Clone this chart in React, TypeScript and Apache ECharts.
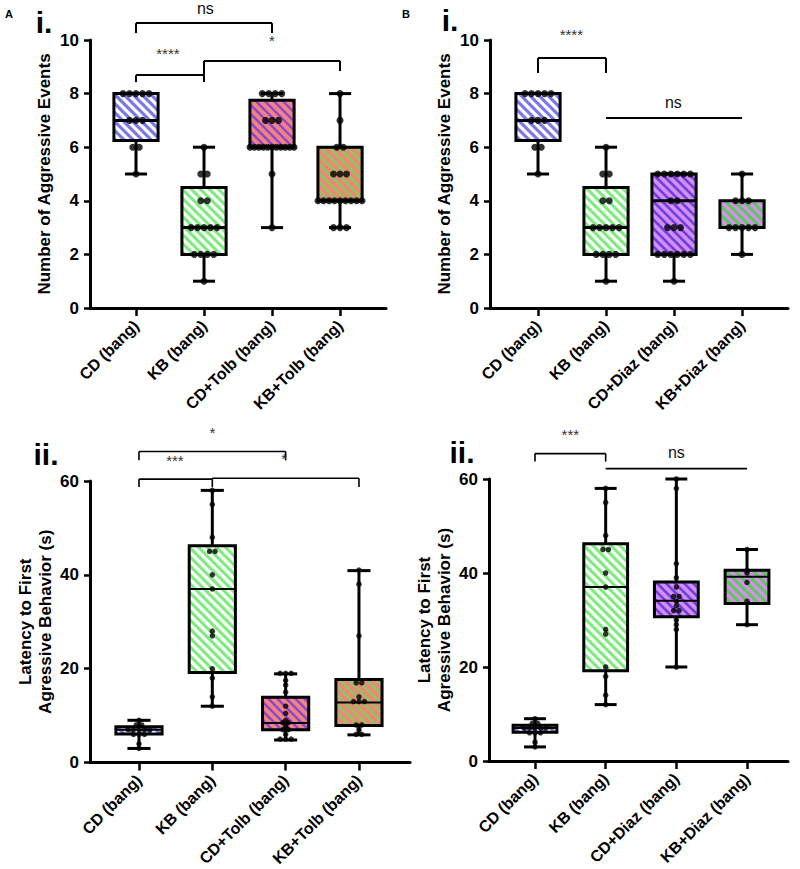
import React, { useEffect, useRef } from 'react';
import * as echarts from 'echarts';

const FONT = "'Liberation Sans', Arial, Helvetica, sans-serif";

// ---------- categories ----------
const catsA = ['CD (bang)', 'KB (bang)', 'CD+Tolb (bang)', 'KB+Tolb (bang)'];
const catsB = ['CD (bang)', 'KB (bang)', 'CD+Diaz (bang)', 'KB+Diaz (bang)'];

// ---------- i. Number of aggressive events: [min, q1, median, q3, max] ----------
const eventsBoxA = [
  [5, 6.25, 7, 8, 8],
  [1, 2, 3, 4.5, 6],
  [3, 6, 6, 7.75, 8],
  [3, 4, 4, 6, 8],
];
const eventsBoxB = [
  [5, 6.25, 7, 8, 8],
  [1, 2, 3, 4.5, 6],
  [1, 2, 4, 5, 5],
  [2, 3, 3, 4, 5],
];
const eventsPtsA = [
  [8, 8, 8, 8, 8, 7, 7, 7, 6, 6, 5],
  [6, 5, 5, 4, 4, 3, 3, 3, 3, 3, 2, 2, 2, 2, 1],
  [8, 8, 8, 8, 7, 7, 7, 6, 6, 6, 6, 6, 6, 6, 6, 6, 6, 6, 5, 3],
  [8, 7, 6, 6, 5, 5, 5, 4, 4, 4, 4, 4, 4, 4, 4, 4, 3, 3, 3],
];
const eventsPtsB = [
  [8, 8, 8, 8, 8, 7, 7, 7, 6, 6, 5],
  [6, 5, 5, 4, 4, 3, 3, 3, 3, 3, 2, 2, 2, 2, 1],
  [5, 5, 5, 5, 5, 5, 4, 4, 3, 3, 3, 2, 2, 2, 2, 2, 2, 1],
  [5, 4, 4, 4, 3, 3, 3, 3, 3, 2],
];

// ---------- ii. Latency (s): [min, q1, median, q3, max] ----------
const latencyBoxA = [
  [3, 6.1, 7, 7.6, 9],
  [12, 19.2, 37, 46.2, 58],
  [4.8, 7, 8.4, 13.9, 18.9],
  [5.9, 7.9, 12.8, 17.7, 40.9],
];
const latencyBoxB = [
  [3, 6.1, 7, 7.6, 9],
  [12, 19.2, 37, 46.2, 58],
  [20, 30.7, 34.1, 38.1, 60],
  [29, 33.5, 39.2, 40.6, 45],
];
const latencyPtsA = [
  [9, 8, 8, 7, 7, 7, 7, 7, 6, 6, 6, 4, 3],
  [58, 55, 48, 45, 45, 40, 37, 28, 27, 20, 18, 14, 12],
  [19, 19, 19, 17.5, 16.5, 15, 12, 10.5, 9, 8.5, 8.5, 8, 7.5, 7, 7, 6, 5, 5, 5],
  [41, 38, 27, 17, 17, 14, 13, 13, 13, 8, 8, 7, 6, 6],
];
const latencyPtsB = [
  [9, 8, 8, 7, 7, 7, 7, 7, 6, 6, 6, 4, 3],
  [58, 55, 48, 45, 45, 40, 37, 28, 27, 20, 18, 14, 12],
  [60, 58, 42, 39, 37, 35, 35, 34, 33, 32, 32, 30, 29, 28, 20],
  [45, 40.5, 40, 38, 34, 29],
];

// ---------- significance annotations ----------
const sigEventsA = [
  { from: 1, to: 3, y: 10.63, legL: 10.26, legR: 10.26, text: 'ns', tx: 2.02, ty: 11.16 },
  { from: 1, to: 2, y: 8.69, legL: 8.43, legR: 8.43, text: '****', tx: 1.47, ty: 9.51 },
  { from: 2, to: 4, y: 9.22, legL: 8.69, legR: 8.84, text: '*', tx: 3.0, ty: 10.0 },
];
const sigEventsB = [
  { from: 1, to: 2, y: 9.33, legL: 8.77, legR: 8.77, text: '****', tx: 1.49, ty: 10.19 },
  { from: 2, to: 4, y: 7.09, legL: 7.09, legR: 7.09, text: 'ns', tx: 2.99, ty: 7.65 },
];
const sigLatencyA = [
  { from: 1, to: 3, y: 66.3, legL: 64.4, legR: 64.4, text: '*', tx: 2.0, ty: 70.4 },
  { from: 1, to: 2, y: 60.4, legL: 58.7, legR: 58.7, text: '***', tx: 1.49, ty: 64.4 },
  { from: 2, to: 4, y: 60.6, legL: 60.4, legR: 58.7, text: '*', tx: 2.98, ty: 64.8 },
];
const sigLatencyB = [
  { from: 1, to: 2, y: 65.4, legL: 63.7, legR: 63.7, text: '***', tx: 1.5, ty: 69.4 },
  { from: 2, to: 4, y: 62.2, legL: 62.2, legR: 62.2, text: 'ns', tx: 3.0, ty: 65.6 },
];

// ---------- hatch styles ----------
const hatchA = [
  { base: '#ffffff', stripe: '#7b78e8', frac: 0.5 },
  { base: '#ffffff', stripe: '#80ec80', frac: 0.5 },
  { base: '#f2837f', stripe: '#8a48d0', frac: 0.38 },
  { base: '#f2837f', stripe: '#8cc955', frac: 0.42 },
];
const hatchB = [
  { base: '#ffffff', stripe: '#7b78e8', frac: 0.5 },
  { base: '#ffffff', stripe: '#80ec80', frac: 0.5 },
  { base: '#d98cf2', stripe: '#6a44df', frac: 0.42 },
  { base: '#dc8cf0', stripe: '#4fd04f', frac: 0.45 },
];

type Pt = [number, number];

function clipPoly(poly: Pt[], f: (p: Pt) => number): Pt[] {
  const out: Pt[] = [];
  for (let i = 0; i < poly.length; i++) {
    const a = poly[i];
    const b = poly[(i + 1) % poly.length];
    const fa = f(a);
    const fb = f(b);
    if (fa >= 0) out.push(a);
    if ((fa >= 0) !== (fb >= 0)) {
      const t = fa / (fa - fb);
      out.push([a[0] + t * (b[0] - a[0]), a[1] + t * (b[1] - a[1])]);
    }
  }
  return out;
}

function stripes(x0: number, y0: number, x1: number, y1: number, period: number, frac: number, color: string) {
  const rect: Pt[] = [[x0, y0], [x1, y0], [x1, y1], [x0, y1]];
  const res: any[] = [];
  const kMin = Math.floor((x0 - y1) / period) - 1;
  const kMax = Math.ceil((x1 - y0) / period) + 1;
  for (let k = kMin; k <= kMax; k++) {
    const lo = k * period;
    const hi = lo + period * frac;
    let p = clipPoly(rect, (q) => q[0] - q[1] - lo);
    if (p.length < 3) continue;
    p = clipPoly(p, (q) => hi - (q[0] - q[1]));
    if (p.length < 3) continue;
    res.push({ type: 'polygon', shape: { points: p }, style: { fill: color }, silent: true });
  }
  return res;
}

function boxRender(hatch: any[], boxW: number, lw: number, medLw: number, period: number) {
  return (params: any, api: any) => {
    const x = api.value(0);
    const mn = api.value(1), q1 = api.value(2), md = api.value(3), q3 = api.value(4), mx = api.value(5);
    const cx = api.coord([x, md])[0];
    const yy = (v: number) => api.coord([x, v])[1];
    const w = api.size([boxW, 0])[0];
    const capW = w * 0.5;
    const x0 = cx - w / 2, x1 = cx + w / 2;
    const yTop = yy(q3), yBot = yy(q1);
    const h = hatch[params.dataIndex];
    const ln = (xa: number, ya: number, xb: number, yb: number, width: number) => ({
      type: 'line', shape: { x1: xa, y1: ya, x2: xb, y2: yb }, style: { stroke: '#000', lineWidth: width },
    });
    const children: any[] = [
      ln(cx, yy(mx), cx, yTop, lw),
      ln(cx, yBot, cx, yy(mn), lw),
      ln(cx - capW / 2, yy(mx), cx + capW / 2, yy(mx), lw),
      ln(cx - capW / 2, yy(mn), cx + capW / 2, yy(mn), lw),
      { type: 'rect', shape: { x: x0, y: yTop, width: w, height: yBot - yTop }, style: { fill: h.base } },
      ...stripes(x0, yTop, x1, yBot, period, h.frac, h.stripe),
      ln(x0, yy(md), x1, yy(md), medLw),
      { type: 'rect', shape: { x: x0, y: yTop, width: w, height: yBot - yTop }, style: { fill: 'none', stroke: '#000', lineWidth: lw } },
    ];
    return { type: 'group', children };
  };
}

function spreadPoints(pts: number[][], unitPx: number, spacingPx: number, maxSpreadPx: number) {
  const out: number[][] = [];
  pts.forEach((grp, k) => {
    const counts: Record<string, number> = {};
    grp.forEach((v) => { counts[v] = (counts[v] || 0) + 1; });
    const seen: Record<string, number> = {};
    grp.forEach((v) => {
      const n = counts[v];
      const i = seen[v] || 0;
      seen[v] = i + 1;
      const sp = n > 1 ? Math.min(spacingPx, maxSpreadPx / (n - 1)) : 0;
      const off = (i - (n - 1) / 2) * sp;
      out.push([k + 1 + off / unitPx, v]);
    });
  });
  return out;
}

function sigRender(sigs: any[], lw: number, starSize: number, nsSize: number) {
  return (params: any, api: any) => {
    const s = sigs[params.dataIndex];
    const p1 = api.coord([s.from, s.y]);
    const p2 = api.coord([s.to, s.y]);
    const l1 = api.coord([s.from, s.legL]);
    const l2 = api.coord([s.to, s.legR]);
    const t = api.coord([s.tx, s.ty]);
    const isNs = s.text === 'ns';
    const st = { stroke: '#000', lineWidth: lw };
    return {
      type: 'group',
      children: [
        { type: 'line', shape: { x1: p1[0], y1: p1[1], x2: p2[0], y2: p2[1] }, style: st },
        { type: 'line', shape: { x1: p1[0], y1: p1[1], x2: l1[0], y2: l1[1] }, style: st },
        { type: 'line', shape: { x1: p2[0], y1: p2[1], x2: l2[0], y2: l2[1] }, style: st },
        {
          type: 'text',
          style: {
            text: s.text, x: t[0], y: t[1], align: 'center', verticalAlign: 'middle',
            fontSize: isNs ? nsSize : starSize, fontFamily: FONT, fill: isNs ? '#111' : '#333',
          },
        },
      ],
    };
  };
}

const panels = [
  {
    cats: catsA, box: eventsBoxA, pts: eventsPtsA, sig: sigEventsA, hatch: hatchA,
    grid: { left: 90, top: 40, width: 296, height: 268 }, xmin: 0.3235, xmax: 4.676,
    ymax: 10, yint: 2, boxW: 0.65, name: 'Number of Aggressive Events', nameGap: 36,
    lw: 3, medLw: 3, dot: 7, spacing: 6.5,
  },
  {
    cats: catsB, box: eventsBoxB, pts: eventsPtsB, sig: sigEventsB, hatch: hatchB,
    grid: { left: 490, top: 40, width: 298, height: 268 }, xmin: 0.294, xmax: 4.676,
    ymax: 10, yint: 2, boxW: 0.65, name: 'Number of Aggressive Events', nameGap: 36,
    lw: 3, medLw: 3, dot: 7, spacing: 6.5,
  },
  {
    cats: catsA, box: latencyBoxA, pts: latencyPtsA, sig: sigLatencyA, hatch: hatchA,
    grid: { left: 90, top: 481, width: 320, height: 282 }, xmin: 0.332, xmax: 4.696,
    ymax: 60, yint: 20, boxW: 0.63, name: 'Latency to First\nAgressive Behavior (s)', nameGap: 35,
    lw: 3, medLw: 2, dot: 5.5, spacing: 5.5,
  },
  {
    cats: catsB, box: latencyBoxB, pts: latencyPtsB, sig: sigLatencyB, hatch: hatchB,
    grid: { left: 489, top: 479, width: 299, height: 282 }, xmin: 0.349, xmax: 4.58,
    ymax: 60, yint: 20, boxW: 0.62, name: 'Latency to First\nAgressive Behavior (s)', nameGap: 35,
    lw: 3, medLw: 2, dot: 5.5, spacing: 5.5,
  },
];

function buildOption() {
  const grid: any[] = [];
  const xAxis: any[] = [];
  const yAxis: any[] = [];
  const series: any[] = [];
  panels.forEach((p, i) => {
    grid.push({ ...p.grid, containLabel: false });
    const unitPx = p.grid.width / (p.xmax - p.xmin);
    xAxis.push({
      gridIndex: i, type: 'value', min: p.xmin, max: p.xmax,
      axisLine: { show: true, onZero: false, lineStyle: { color: '#000', width: 3 } },
      axisTick: { show: true, customValues: [1, 2, 3, 4], length: 8, lineStyle: { color: '#000', width: 2.5 } },
      axisLabel: {
        customValues: [1, 2, 3, 4], formatter: (v: number) => p.cats[Math.round(v) - 1] || '',
        rotate: 45, fontSize: 16, fontWeight: 'bold', color: '#000', fontFamily: FONT, margin: 15,
      },
      splitLine: { show: false },
    });
    yAxis.push({
      gridIndex: i, type: 'value', min: 0, max: p.ymax, interval: p.yint,
      axisLine: { show: true, lineStyle: { color: '#000', width: 3 } },
      axisTick: { show: true, length: 6, lineStyle: { color: '#000', width: 2.5 } },
      axisLabel: { fontSize: 17, fontWeight: 'bold', color: '#000', fontFamily: FONT, margin: 11 },
      splitLine: { show: false },
      name: p.name, nameLocation: 'middle', nameGap: p.nameGap, nameRotate: 90,
      nameTextStyle: { fontSize: 17, fontWeight: 'bold', color: '#000', fontFamily: FONT, lineHeight: 20 },
    });
    series.push({
      type: 'custom', xAxisIndex: i, yAxisIndex: i, z: 2,
      data: p.box.map((b, k) => [k + 1, ...b]),
      encode: { x: 0, y: [1, 2, 3, 4, 5] },
      renderItem: boxRender(p.hatch, p.boxW, p.lw, p.medLw, 9),
    });
    series.push({
      type: 'scatter', xAxisIndex: i, yAxisIndex: i, z: 5,
      symbol: 'circle', symbolSize: p.dot, itemStyle: { color: '#000' },
      data: spreadPoints(p.pts, unitPx, p.spacing, 44),
    });
    series.push({
      type: 'custom', xAxisIndex: i, yAxisIndex: i, z: 3, clip: false,
      data: p.sig.map((s) => [s.from, s.y]),
      encode: { x: 0, y: 1 },
      renderItem: sigRender(p.sig, i === 3 || i === 2 ? 1.6 : 2, 15, 16),
    });
  });

  const label = (text: string, x: number, y: number, size: number) => ({
    type: 'text', x, y,
    style: {
      text, fontSize: size, fontWeight: 'bold', fontFamily: FONT, fill: '#000',
      align: 'center', verticalAlign: 'middle', lineHeight: Math.round(size * 0.7),
    },
  });

  return {
    animation: false,
    backgroundColor: '#ffffff',
    grid, xAxis, yAxis, series,
    graphic: [
      label('A', 9, 14, 11),
      label('i.', 44, 22, 30),
      label('B', 406, 14, 11),
      label('i.', 450, 20, 30),
      label('ii.', 46, 454, 30),
      label('ii.', 462, 452, 30),
    ],
  };
}

export default function App() {
  const ref = useRef<HTMLDivElement>(null);
  useEffect(() => {
    const chart = echarts.init(ref.current as HTMLDivElement, null, { renderer: 'svg' });
    chart.setOption(buildOption() as any);
    return () => chart.dispose();
  }, []);
  return (
    <div
      ref={ref}
      style={{ position: 'absolute', left: 0, top: 0, width: 800, height: 869, background: '#fff' }}
    />
  );
}
